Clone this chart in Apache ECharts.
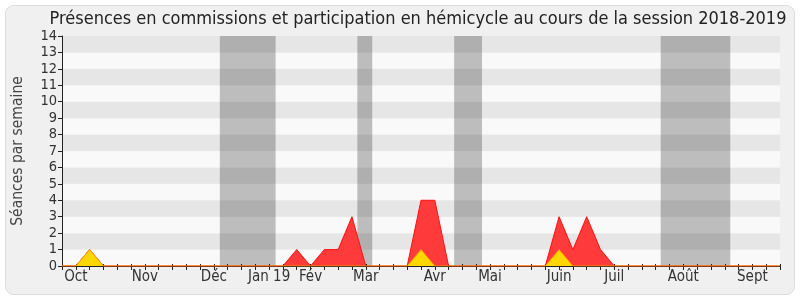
<!DOCTYPE html>
<html><head><meta charset="utf-8">
<script src="https://cdn.jsdelivr.net/npm/echarts@6/dist/echarts.min.js"></script>
<style>html,body{margin:0;padding:0;background:#fff}#c{width:800px;height:300px}</style>
</head><body><div id="c"></div>
<script>
// week index 0..52 (session 2018-2019)
const weeks = Array.from({length: 53}, (_, i) => i);
const monthLabelWeeks = [1, 6, 11, 15, 18, 22, 27, 31, 36, 40, 45, 50];
const monthLabels = ['Oct', 'Nov', 'Déc', 'Jan 19', 'Fév', 'Mar', 'Avr', 'Mai', 'Juin', 'Juil', 'Août', 'Sept'];
// red: présences (weekly)
const redValues = [0,0,1,0,0,0,0,0,0,0,0,0,0,0,0,0,0,1,0,1,1,3,0,0,0,0,4,4,0,0,0,0,0,0,0,0,3,1,3,1,0,0,0,0,0,0,0,0,0,0,0,0,0];
// yellow: participation
const yellowValues = [0,0,1,0,0,0,0,0,0,0,0,0,0,0,0,0,0,0,0,0,0,0,0,0,0,0,1,0,0,0,0,0,0,0,0,0,1,0,0,0,0,0,0,0,0,0,0,0,0,0,0,0,0];
// vacation periods in week units
const vacations = [[11.43, 15.47], [21.39, 22.47], [28.4, 30.42], [43.36, 48.4]];
const yTicks = [0,1,2,3,4,5,6,7,8,9,10,11,12,13,14];

const chart = echarts.init(document.getElementById('c'), null, {renderer: 'canvas'});
const labelMap = {};
monthLabelWeeks.forEach((w, i) => labelMap[w] = monthLabels[i]);
const font = '"DejaVu Sans Condensed", "DejaVu Sans"';
chart.setOption({
  animation: false,
  graphic: [{
    type: 'rect', z: -10, silent: true,
    shape: {x: 5.5, y: 5.5, width: 789, height: 289, r: 8},
    style: {fill: '#f0f0f0', stroke: '#dcdcdc', lineWidth: 1}
  }],
  title: {
    text: 'Présences en commissions et participation en hémicycle au cours de la session 2018-2019',
    left: 413, top: 5, textAlign: 'center',
    textStyle: {fontFamily: font, fontSize: 18, fontWeight: 'normal', color: '#222'}
  },
  grid: {left: 62, right: 20, top: 36, bottom: 34},
  xAxis: [{
    type: 'value', min: 0, max: 52, interval: 1,
    axisLine: {show: true, onZero: false, lineStyle: {color: '#222', width: 1}},
    axisTick: {show: true, length: 4, lineStyle: {color: '#222'}},
    splitLine: {show: false},
    axisLabel: {
      fontFamily: font, fontSize: 15, color: '#333', margin: 4,
      showMinLabel: true, showMaxLabel: true,
      formatter: v => labelMap[v] || ''
    }
  }, {
    type: 'value', position: 'top', min: 0, max: 52, interval: 1,
    axisLine: {show: false},
    axisTick: {show: true, length: 2, lineStyle: {color: '#222'}},
    axisLabel: {show: false}, splitLine: {show: false}
  }],
  yAxis: {
    type: 'value', min: 0, max: 14, interval: 1,
    name: 'Séances par semaine', nameLocation: 'middle', nameGap: 36,
    nameTextStyle: {fontFamily: font, fontSize: 15.5, color: '#444'},
    axisLine: {show: true, lineStyle: {color: '#222'}},
    axisTick: {show: true, length: 4, lineStyle: {color: '#222'}},
    axisLabel: {fontFamily: font, fontSize: 14.5, color: '#333', margin: 5,
      formatter: v => yTicks.includes(v) ? String(v) : ''},
    splitLine: {show: false},
    splitArea: {show: true, areaStyle: {color: ['#f9f9f9', '#e6e6e6']}}
  },
  series: [{
    type: 'line', name: 'Présences', symbol: 'none', z: 3,
    data: weeks.map(i => [i, redValues[i]]),
    lineStyle: {color: '#ff1111', width: 1},
    areaStyle: {color: '#ff3a3a', opacity: 1},
    markArea: {
      silent: true,
      itemStyle: {color: 'rgba(0,0,0,0.24)'},
      data: vacations.map(v => [{xAxis: v[0]}, {xAxis: v[1]}])
    }
  }, {
    type: 'line', name: 'Participation', symbol: 'none', z: 4,
    data: weeks.map(i => [i, yellowValues[i]]),
    lineStyle: {color: '#ff9900', width: 1},
    areaStyle: {color: '#ffd700', opacity: 1}
  }]
});
</script></body></html>
